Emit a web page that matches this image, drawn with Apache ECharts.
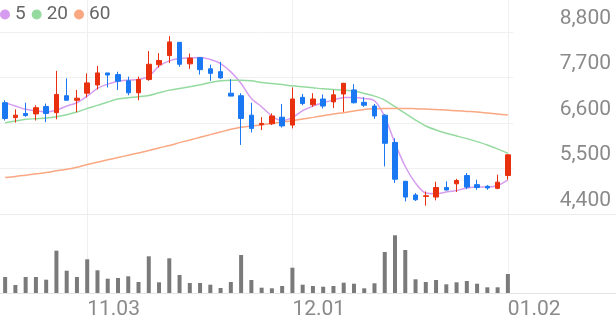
<!DOCTYPE html>
<html>
<head>
<meta charset="utf-8">
<script src="https://cdn.jsdelivr.net/npm/echarts@6/dist/echarts.min.js"></script>
<style>
html,body{margin:0;padding:0;background:#fff;}
#c{width:616px;height:321px;}
</style>
</head>
<body>
<div id="c"></div>
<script>
const dates = ['10.22','10.23','10.24','10.27','10.28','10.29','10.30','10.31',
  '11.03','11.04','11.05','11.06','11.07','11.10','11.11','11.12','11.13','11.14','11.17','11.18','11.19','11.20','11.21','11.24','11.25','11.26','11.27','11.28',
  '12.01','12.02','12.03','12.04','12.05','12.08','12.09','12.10','12.11','12.12','12.15','12.16','12.17','12.18','12.19','12.22','12.23','12.24','12.26','12.29','12.30',
  '01.02'];
const labelDates = ['11.03','12.01','01.02'];
const opens  = [7090,6730,6830,6820,7000,6850,7260,7150,7320,7520,7810,7770,7620,7330,7650,8010,8230,8550,8030,8180,7910,7840,7320,7260,6790,6560,6580,6740,6550,7220,7040,7180,7110,7300,7400,7100,7010,6790,6130,5190,4860,4825,4810,5040,5130,5330,5110,5070,5020,5330];
const closes = [6710,6790,6780,6970,6830,7290,7150,7200,7570,7810,7760,7610,7330,7650,8020,8110,8560,8020,8170,7890,7800,7690,7250,6710,6470,6590,6770,6530,7180,7070,7180,7010,7280,7560,7090,7030,6770,6110,5240,4810,4745,4840,5040,4980,5210,5050,5040,5030,5170,5830];
const lows   = [6660,6610,6750,6660,6620,6690,7140,6860,7220,7410,7460,7400,7270,7150,7620,7940,8050,7960,7910,7770,7620,7670,7250,6070,6370,6430,6550,6490,6470,7030,6990,6950,6960,6870,7070,6990,6700,5550,5150,4705,4715,4600,4730,4970,4930,5000,4985,4985,5000,5230];
const highs  = [7150,6930,7090,7030,7070,7860,7680,7400,7800,7980,7810,7840,7720,7720,8340,8290,8700,8550,8280,8180,8010,8080,7660,7320,7090,6740,6830,7060,7460,7300,7320,7290,7400,7570,7540,7220,7060,6810,6230,5200,4905,4945,5180,5190,5250,5390,5230,5100,5350,5850];
const ma5  = [7090,7010,6930,6890,6870,6910,7010,7090,7250,7435,7540,7612,7636,7652,7732,7973,8102,8158,8174,8182,8134,8037,7836,7555,7194,6993,6769,6656,6736,6897,7009,7090,7154,7218,7218,7194,7138,6752,6110,5548,5146,4906,4890,4930,4970,5026,5050,5050,5090,5227];
const ma20 = [6608,6648,6688,6704,6720,6752,6800,6865,6953,7026,7106,7178,7210,7234,7266,7331,7395,7435,7475,7523,7580,7620,7636,7636,7620,7580,7556,7531,7499,7475,7451,7427,7411,7395,7371,7315,7250,7154,6993,6833,6672,6528,6431,6351,6287,6222,6150,6070,5974,5869];
const ma60 = [5283,5307,5339,5371,5403,5444,5484,5532,5596,5652,5709,5765,5821,5877,5933,5998,6054,6126,6190,6255,6319,6383,6447,6495,6528,6552,6592,6624,6656,6696,6736,6777,6817,6849,6889,6929,6945,6953,6953,6953,6945,6937,6929,6913,6897,6881,6865,6841,6817,6793];
const volumes = [160,80,160,160,133,423,223,160,337,227,143,150,167,110,367,107,347,180,100,100,83,50,110,380,130,53,47,70,253,83,70,63,70,103,93,47,97,410,577,430,137,110,130,87,107,120,93,57,57,190];
const priceTicks = [4400, 8800, 1100];

const RED = '#e8300f', BLUE = '#1a78f2';
const candleData = dates.map((d, i) => [opens[i], closes[i], lows[i], highs[i]]);
const FONT = 'Roboto';
const GRID_L = 0, GRID_W = 513;

const chart = echarts.init(document.getElementById('c'), null, {renderer: 'canvas'});
chart.setOption({
  animation: false,
  backgroundColor: '#fff',
  textStyle: {fontFamily: FONT},
  legend: {
    left: 0, top: 5, padding: 0,
    icon: 'circle', itemWidth: 10, itemHeight: 10, itemGap: 6,
    textStyle: {fontSize: 19, color: '#666', fontFamily: FONT},
    data: ['5', '20', '60']
  },
  grid: [
    {left: GRID_L, width: GRID_W, top: 32, height: 182},
    {left: GRID_L, width: GRID_W, top: 233, height: 60},
    {left: GRID_L, width: GRID_W, top: 0, bottom: 28},
    {left: 0, right: 0, top: 214, bottom: 28}
  ],
  xAxis: [
    {type: 'category', gridIndex: 0, data: dates, boundaryGap: true,
     axisLine: {show: false}, axisTick: {show: false}, axisLabel: {show: false}, splitLine: {show: false}},
    {type: 'category', gridIndex: 1, data: dates, boundaryGap: true,
     axisLine: {show: false}, axisTick: {show: false}, axisLabel: {show: false}, splitLine: {show: false}},
    {type: 'category', gridIndex: 2, data: dates, boundaryGap: true,
     axisLine: {show: false}, axisTick: {show: false},
     axisLabel: {show: true, interval: (i, v) => labelDates.includes(v), align: 'left',
       fontSize: 21, color: '#8a8a8a', fontFamily: FONT, margin: 6},
     splitLine: {show: true, alignWithLabel: true, interval: (i, v) => labelDates.includes(v),
       lineStyle: {color: '#efefef', width: 1}}},
    {type: 'category', gridIndex: 3, data: [''], position: 'bottom',
     axisLine: {show: true, lineStyle: {color: '#e4e4e4', width: 1}}, axisTick: {show: false}, axisLabel: {show: false}},
    {type: 'category', gridIndex: 3, data: [''], position: 'top',
     axisLine: {show: true, lineStyle: {color: '#ececec', width: 1}}, axisTick: {show: false}, axisLabel: {show: false}}
  ],
  yAxis: [
    {type: 'value', gridIndex: 0, position: 'right', min: priceTicks[0], max: priceTicks[1], interval: priceTicks[2],
     axisLine: {show: false}, axisTick: {show: false},
     axisLabel: {align: 'right', verticalAlign: 'bottom', margin: 98, padding: [0, 0, 3, 0],
       fontSize: 21, color: '#8a8a8a', fontFamily: FONT,
       formatter: v => v.toLocaleString('en-US')},
     splitLine: {show: true, lineStyle: {color: '#f0f0f0', width: 1}}},
    {type: 'value', gridIndex: 1, min: 0, max: 600, show: false, splitLine: {show: false}},
    {type: 'value', gridIndex: 2, min: 0, max: 1, show: false, splitLine: {show: false}},
    {type: 'value', gridIndex: 3, min: 0, max: 1, show: false, splitLine: {show: false}}
  ],
  series: [
    {name: 'candle', type: 'candlestick', xAxisIndex: 0, yAxisIndex: 0, data: candleData,
     barWidth: 5, z: 5,
     itemStyle: {color: RED, color0: BLUE, borderColor: RED, borderColor0: BLUE, borderWidth: 1}},
    {name: '5', type: 'line', xAxisIndex: 0, yAxisIndex: 0, data: ma5, smooth: 0.3, symbol: 'none',
     lineStyle: {color: '#d69cef', width: 1.5}, itemStyle: {color: '#d69cef'}, z: 4},
    {name: '20', type: 'line', xAxisIndex: 0, yAxisIndex: 0, data: ma20, smooth: 0.3, symbol: 'none',
     lineStyle: {color: '#95dba0', width: 1.5}, itemStyle: {color: '#95dba0'}, z: 4},
    {name: '60', type: 'line', xAxisIndex: 0, yAxisIndex: 0, data: ma60, smooth: 0.3, symbol: 'none',
     lineStyle: {color: '#f9a882', width: 1.5}, itemStyle: {color: '#f9a882'}, z: 4},
    {name: 'vol', type: 'bar', xAxisIndex: 1, yAxisIndex: 1, data: volumes, barWidth: 4,
     itemStyle: {color: '#7a7a7a'}}
  ]
});
</script>
</body>
</html>
